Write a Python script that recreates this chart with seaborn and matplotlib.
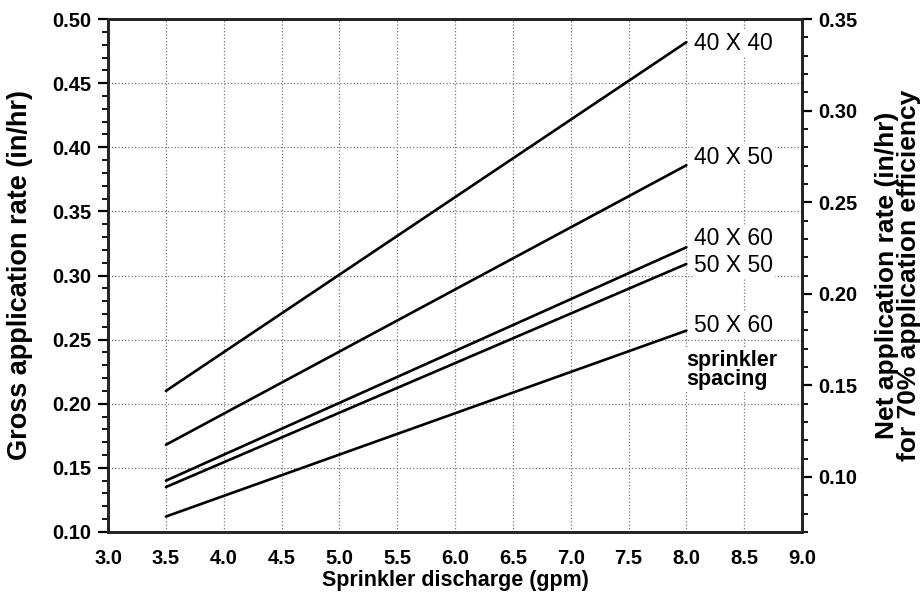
import numpy as np
import pandas as pd
import seaborn as sns
import matplotlib.pyplot as plt
from matplotlib.ticker import MultipleLocator, FormatStrFormatter

# sprinkler discharge (gpm) at the line ends
discharge = [3.5, 8.0]
# gross application rate (in/hr) for each spacing
spacings = ["40 X 40", "40 X 50", "40 X 60", "50 X 50", "50 X 60"]
rate_40x40 = [0.210, 0.482]
rate_40x50 = [0.168, 0.386]
rate_40x60 = [0.140, 0.322]
rate_50x50 = [0.135, 0.309]
rate_50x60 = [0.112, 0.257]
rates = [rate_40x40, rate_40x50, rate_40x60, rate_50x50, rate_50x60]
efficiency = 0.70

sns.set_style("white")
plt.rcParams['font.family'] = ['Liberation Sans', 'DejaVu Sans']
plt.rcParams['text.color'] = 'black'
plt.rcParams['axes.labelcolor'] = 'black'
plt.rcParams['xtick.color'] = 'black'
plt.rcParams['ytick.color'] = 'black'

fig = plt.figure(figsize=(9.24, 5.97), dpi=100)
ax = fig.add_axes([0.117, 0.109, 0.751, 0.859])

rows = []
for name, r in zip(spacings, rates):
    for q, v in zip(discharge, r):
        rows.append({"spacing": name, "discharge": q, "rate": v})
df = pd.DataFrame(rows)

for name in spacings:
    d = df[df["spacing"] == name]
    sns.lineplot(data=d, x="discharge", y="rate", color="black", linewidth=1.9, ax=ax)

ax.set_xlim(3.0, 9.0)
ax.set_ylim(0.10, 0.50)
ax.xaxis.set_major_locator(MultipleLocator(0.5))
ax.xaxis.set_minor_locator(MultipleLocator(0.25))
ax.yaxis.set_major_locator(MultipleLocator(0.05))
ax.yaxis.set_minor_locator(MultipleLocator(0.01))
ax.xaxis.set_major_formatter(FormatStrFormatter('%.1f'))
ax.yaxis.set_major_formatter(FormatStrFormatter('%.2f'))
ax.grid(True, which='major', linestyle=':', color='#777777', linewidth=0.9)
ax.tick_params(which='major', direction='out', length=7, width=1.6, labelsize=14.5, pad=5)
ax.tick_params(which='minor', direction='out', length=4, width=1.3)
for lab in ax.get_xticklabels() + ax.get_yticklabels():
    lab.set_fontweight('bold')
for s in ax.spines.values():
    s.set_linewidth(1.9)
    s.set_color('black')

ax.set_xlabel("Sprinkler discharge (gpm)", fontsize=15.5, fontweight='bold', labelpad=2)
ax.set_ylabel("")
fig.text(20 / 924, 1 - 275 / 597, "Gross application rate (in/hr)", rotation=90,
         fontsize=19.5, fontweight='bold', ha='center', va='center')

# line labels
label_y = [0.4813, 0.3924, 0.3285, 0.3082, 0.2614]
for name, y in zip(spacings, label_y):
    ax.text(8.07, y, name, fontsize=16.5, va='center', ha='left',
            bbox=dict(facecolor='white', edgecolor='none', pad=1))
ax.text(8.0, 0.2263, "sprinkler\nspacing", fontsize=15.5, fontweight='bold',
        va='center', ha='left', linespacing=0.85,
        bbox=dict(facecolor='white', edgecolor='none', pad=1))

ax2 = ax.twinx()
ax2.set_ylim(0.10 * efficiency, 0.50 * efficiency)
ax2.yaxis.set_major_locator(MultipleLocator(0.05))
ax2.yaxis.set_minor_locator(MultipleLocator(0.01))
ax2.yaxis.set_major_formatter(FormatStrFormatter('%.2f'))
ax2.tick_params(which='major', direction='out', length=7, width=1.6, labelsize=14.5, pad=5)
ax2.tick_params(which='minor', direction='out', length=4, width=1.3)
for lab in ax2.get_yticklabels():
    lab.set_fontweight('bold')
for s in ax2.spines.values():
    s.set_linewidth(1.9)
fig.text(898 / 924, 1 - 275 / 597,
         "Net application rate (in/hr)\nfor 70% application efficiency",
         rotation=90, fontsize=19, fontweight='bold', ha='center', va='center',
         linespacing=0.9, multialignment='center')

fig.savefig("out.png", dpi=100)
